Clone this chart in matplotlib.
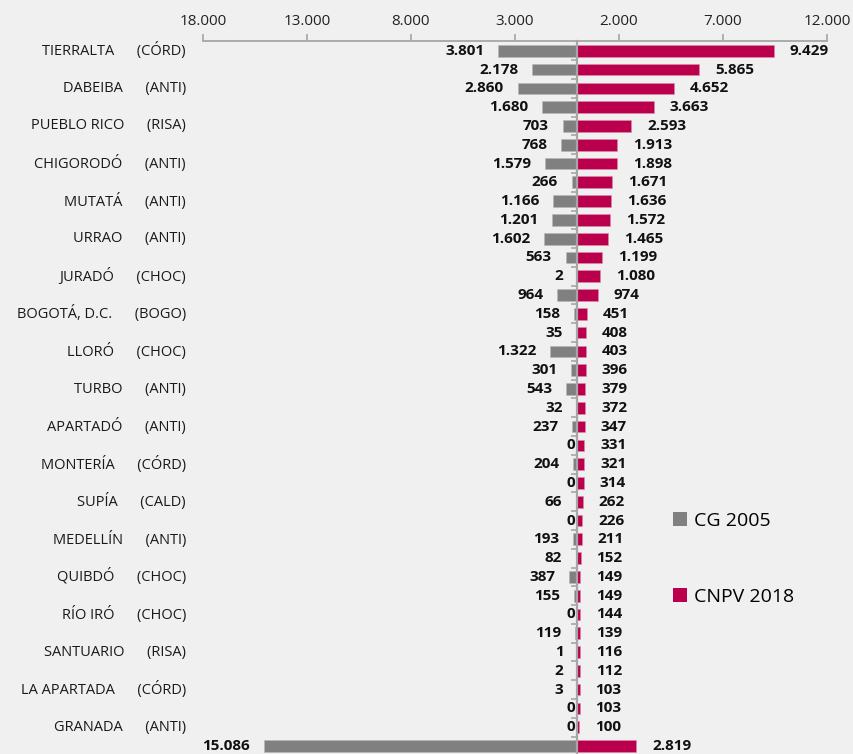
import numpy as np
import matplotlib.pyplot as plt
from matplotlib.patches import Patch

plt.rcParams['font.family'] = ['Open Sans', 'DejaVu Sans']

# municipality labels (shown on every other row)
names = ["TIERRALTA", "DABEIBA", "PUEBLO RICO", "CHIGORODÓ", "MUTATÁ", "URRAO",
         "JURADÓ", "BOGOTÁ, D.C.", "LLORÓ", "TURBO", "APARTADÓ", "MONTERÍA",
         "SUPÍA", "MEDELLÍN", "QUIBDÓ", "RÍO IRÓ", "SANTUARIO", "LA APARTADA",
         "GRANADA"]
depts = ["CÓRD", "ANTI", "RISA", "ANTI", "ANTI", "ANTI", "CHOC", "BOGO", "CHOC",
         "ANTI", "ANTI", "CÓRD", "CALD", "ANTI", "CHOC", "CHOC", "RISA", "CÓRD",
         "ANTI"]

cg2005 = [3801, 2178, 2860, 1680, 703, 768, 1579, 266, 1166, 1201, 1602, 563, 2,
          964, 158, 35, 1322, 301, 543, 32, 237, 0, 204, 0, 66, 0, 193, 82, 387,
          155, 0, 119, 1, 2, 3, 0, 0, 15086]
cnpv2018 = [9429, 5865, 4652, 3663, 2593, 1913, 1898, 1671, 1636, 1572, 1465,
            1199, 1080, 974, 451, 408, 403, 396, 379, 372, 347, 331, 321, 314,
            262, 226, 211, 152, 149, 149, 144, 139, 116, 112, 103, 103, 100, 2819]

tick_vals = [-18000, -13000, -8000, -3000, 2000, 7000, 12000]

GRAY = '#808080'
RED = '#BA004C'
BG = '#F0F0F0'
AXC = '#A6A6A6'


def fmt(v):
    return f"{int(abs(v)):,}".replace(",", ".")


fig = plt.figure(figsize=(8.54, 7.54), dpi=100, facecolor=BG)
ax = fig.add_axes([203 / 854, -1.4 / 754, 624 / 854, 714 / 754])
ax.set_facecolor(BG)

y = np.arange(len(cg2005))
left = -np.array(cg2005)
right = np.array(cnpv2018)

ax.barh(y, left, height=0.62, color=GRAY, edgecolor='#B8B8B8', linewidth=0.4, label='CG 2005')
ax.barh(y, right, height=0.62, color=RED, edgecolor='#E08AAE', linewidth=0.4, label='CNPV 2018')

ax.set_xlim(-18000, 12000)
ax.set_ylim(len(y) - 0.5, -0.5)

# top axis
ax.xaxis.tick_top()
ax.set_xticks(tick_vals)
ax.set_xticklabels([fmt(v) for v in tick_vals])
ax.tick_params(axis='x', direction='out', length=5, width=1.2, color=AXC,
               pad=4, labelsize=11, labelcolor='#222222')
for s in ['bottom', 'right']:
    ax.spines[s].set_visible(False)
ax.spines['top'].set_color(AXC)
ax.spines['top'].set_linewidth(1.3)

# category axis in the middle
ax.spines['left'].set_position(('data', 0))
ax.spines['left'].set_color(AXC)
ax.spines['left'].set_linewidth(1.6)
ax.spines['left'].set_zorder(3)
ax.set_yticks(y[::2])
ax.set_yticklabels([])
ax.set_yticks(np.arange(0.5, len(y) - 0.5, 1), minor=True)
ax.tick_params(axis='y', which='major', length=0)
ax.tick_params(axis='y', which='minor', direction='out', length=4, width=1.2, color=AXC)

for i, (n, d) in enumerate(zip(names, depts)):
    ax.annotate(f"{n}      ({d})", xy=(0, 2 * i), xycoords=('axes fraction', 'data'),
                xytext=(-12.2, 0), textcoords='offset points', ha='right', va='center',
                fontsize=10.5, color='#1a1a1a')

for yi, lv, rv in zip(y, cg2005, cnpv2018):
    off = -1.5 if lv == 0 else -10
    ax.annotate(fmt(lv), xy=(-lv, yi), xytext=(off, 0), textcoords='offset points',
                ha='right', va='center', fontsize=11, fontweight='bold', color='#111111')
    ax.annotate(fmt(rv), xy=(rv, yi), xytext=(11.5, 0), textcoords='offset points',
                ha='left', va='center', fontsize=11, fontweight='bold', color='#111111')

handles = [Patch(facecolor=GRAY, label='CG 2005'), Patch(facecolor=RED, label='CNPV 2018')]
fig.legend(handles=handles, loc='upper left', bbox_to_anchor=(656 / 854, 1 - 494 / 754),
           frameon=False, fontsize=14, handlelength=0.7, handleheight=0.7,
           handletextpad=0.35, labelspacing=3.0)

fig.savefig('out.png', dpi=100, facecolor=BG)
